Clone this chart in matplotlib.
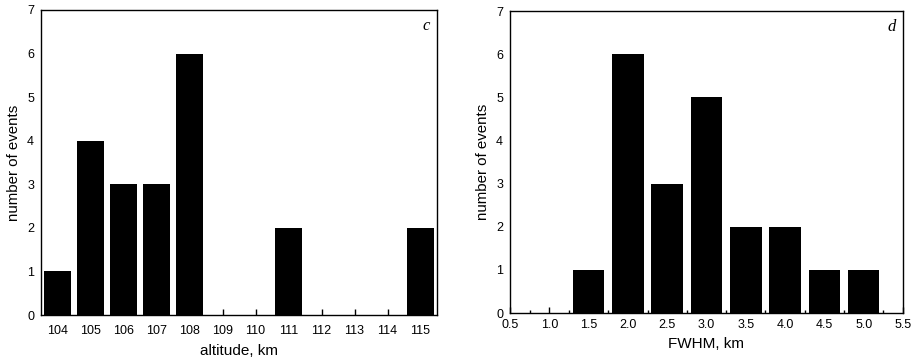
import numpy as np
import matplotlib.pyplot as plt

plt.rcParams['font.family'] = ['Liberation Sans', 'DejaVu Sans']

# panel c: altitude histogram
altitudes = [104, 105, 106, 107, 108, 109, 110, 111, 112, 113, 114, 115]
alt_counts = [1, 4, 3, 3, 6, 0, 0, 2, 0, 0, 0, 2]

# panel d: FWHM histogram
fwhm = [1.5, 2.0, 2.5, 3.0, 3.5, 4.0, 4.5, 5.0]
fwhm_counts = [1, 6, 3, 5, 2, 2, 1, 1]
fwhm_ticks = [0.5, 1.0, 1.5, 2.0, 2.5, 3.0, 3.5, 4.0, 4.5, 5.0, 5.5]

fig = plt.figure(figsize=(9.19, 3.59), dpi=100)
ax1 = fig.add_axes([41 / 919, 1 - 315 / 359, 396 / 919, 305 / 359])
ax2 = fig.add_axes([510 / 919, 1 - 313 / 359, 393 / 919, 302 / 359])

ax1.bar(altitudes, alt_counts, width=0.81, color='black', zorder=3)
ax1.set_xlim(103.5, 115.5)
ax1.set_xticks(altitudes)
ax1.set_xticklabels([str(a) for a in altitudes])
ax1.set_xlabel('altitude, km', fontsize=11, labelpad=5)
ax1.tick_params(axis='x', pad=7)
ax1.text(0.982, 0.975, 'c', transform=ax1.transAxes, ha='right', va='top',
         fontsize=12, fontstyle='italic', family='Liberation Serif')

ax2.bar(fwhm, fwhm_counts, width=0.4, color='black', zorder=3)
ax2.set_xlim(0.5, 5.5)
ax2.set_xticks(fwhm_ticks)
ax2.set_xticklabels([f'{t:.1f}' for t in fwhm_ticks])
ax2.set_xticks(np.arange(0.75, 5.5, 0.5), minor=True)
ax2.set_xlabel('FWHM, km', fontsize=11, labelpad=5)
ax2.tick_params(axis='x', pad=4)
ax2.text(0.982, 0.975, 'd', transform=ax2.transAxes, ha='right', va='top',
         fontsize=12, fontstyle='italic', family='Liberation Serif')

for ax in (ax1, ax2):
    ax.set_ylim(0, 7)
    ax.set_yticks(range(8))
    ax.set_ylabel('number of events', fontsize=10.8, labelpad=4)
    ax.tick_params(axis='both', which='major', direction='in', length=4,
                   width=1, labelsize=9)
    ax.tick_params(axis='x', which='minor', direction='in', length=2, width=1)
    ax.tick_params(axis='y', length=0, pad=5)
    for s in ax.spines.values():
        s.set_linewidth(1.0)

fig.savefig('out.png', dpi=100)
